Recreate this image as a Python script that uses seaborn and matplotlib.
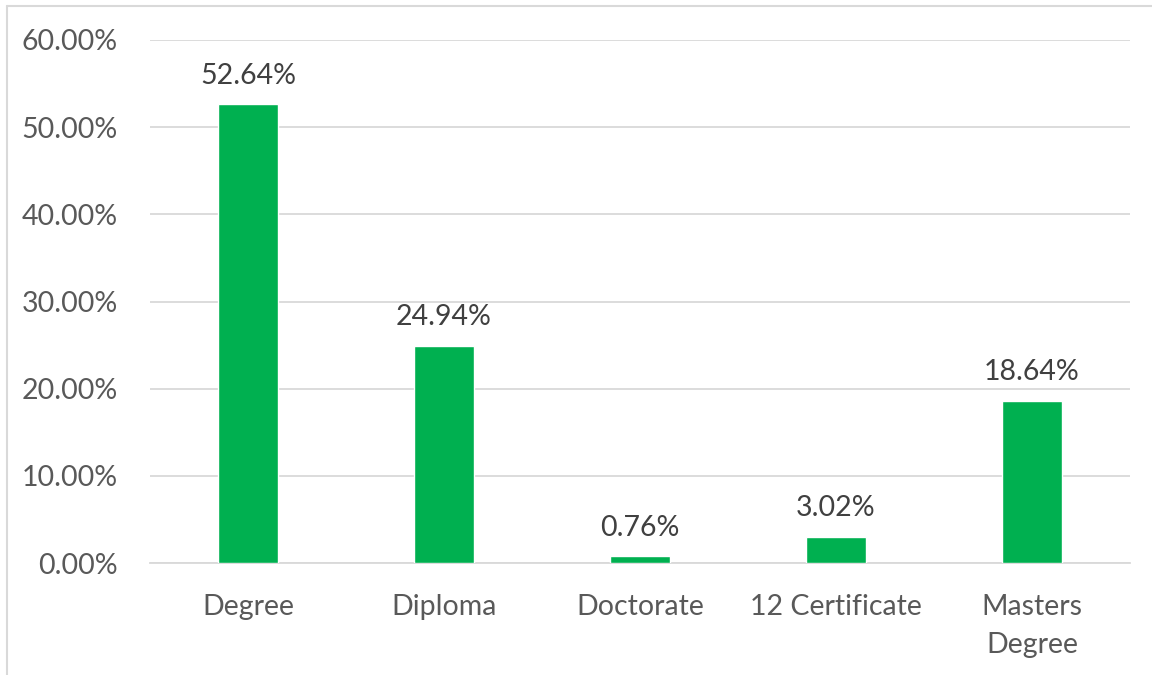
import matplotlib
matplotlib.use("Agg")
import matplotlib.pyplot as plt
import seaborn as sns
import pandas as pd
from matplotlib.lines import Line2D
from matplotlib.ticker import FuncFormatter, MultipleLocator

categories = ["Degree", "Diploma", "Doctorate", "12 Certificate", "Masters\nDegree"]
shares = [52.64, 24.94, 0.76, 3.02, 18.64]

df = pd.DataFrame({"category": categories, "share": shares})

sns.set_theme(style="white")
plt.rcParams["font.family"] = ["Lato", "DejaVu Sans"]

fig = plt.figure(figsize=(11.52, 6.75), dpi=100)
ax = fig.add_axes([150 / 1152, 1 - 563 / 675, 980 / 1152, 523 / 675])

sns.barplot(data=df, x="category", y="share", color="#00B050", saturation=1,
            width=0.31, ax=ax, zorder=3)

ax.set_ylim(0, 60)
ax.yaxis.set_major_locator(MultipleLocator(10))
ax.yaxis.set_major_formatter(FuncFormatter(lambda v, _: f"{v:.2f}%"))
ax.grid(axis="y", color="#D9D9D9", linewidth=1.3, zorder=0)
ax.set_axisbelow(True)
for side in ["left", "right", "top"]:
    ax.spines[side].set_visible(False)
ax.spines["bottom"].set_color("#D9D9D9")
ax.spines["bottom"].set_linewidth(1.3)
ax.set_xlabel("")
ax.set_ylabel("")
ax.tick_params(axis="y", length=0, pad=23, labelsize=20.5, labelcolor="#595959")
ax.tick_params(axis="x", length=0, pad=22, labelsize=20.5, labelcolor="#595959")
for lbl in ax.get_xticklabels():
    lbl.set_linespacing(1.57)

for container in ax.containers:
    ax.bar_label(container, labels=[f"{v:.2f}%" for v in shares], padding=11,
                 fontsize=20.5, color="#404040")

# light chart-area frame
fig.add_artist(Line2D([7 / 1152, 7 / 1152], [0, 1 - 6 / 675], transform=fig.transFigure,
                      color="#D9D9D9", linewidth=1.5))
fig.add_artist(Line2D([7 / 1152, 1], [1 - 6 / 675, 1 - 6 / 675], transform=fig.transFigure,
                      color="#D9D9D9", linewidth=1.5))

fig.savefig("out.png", dpi=100, facecolor="white")
